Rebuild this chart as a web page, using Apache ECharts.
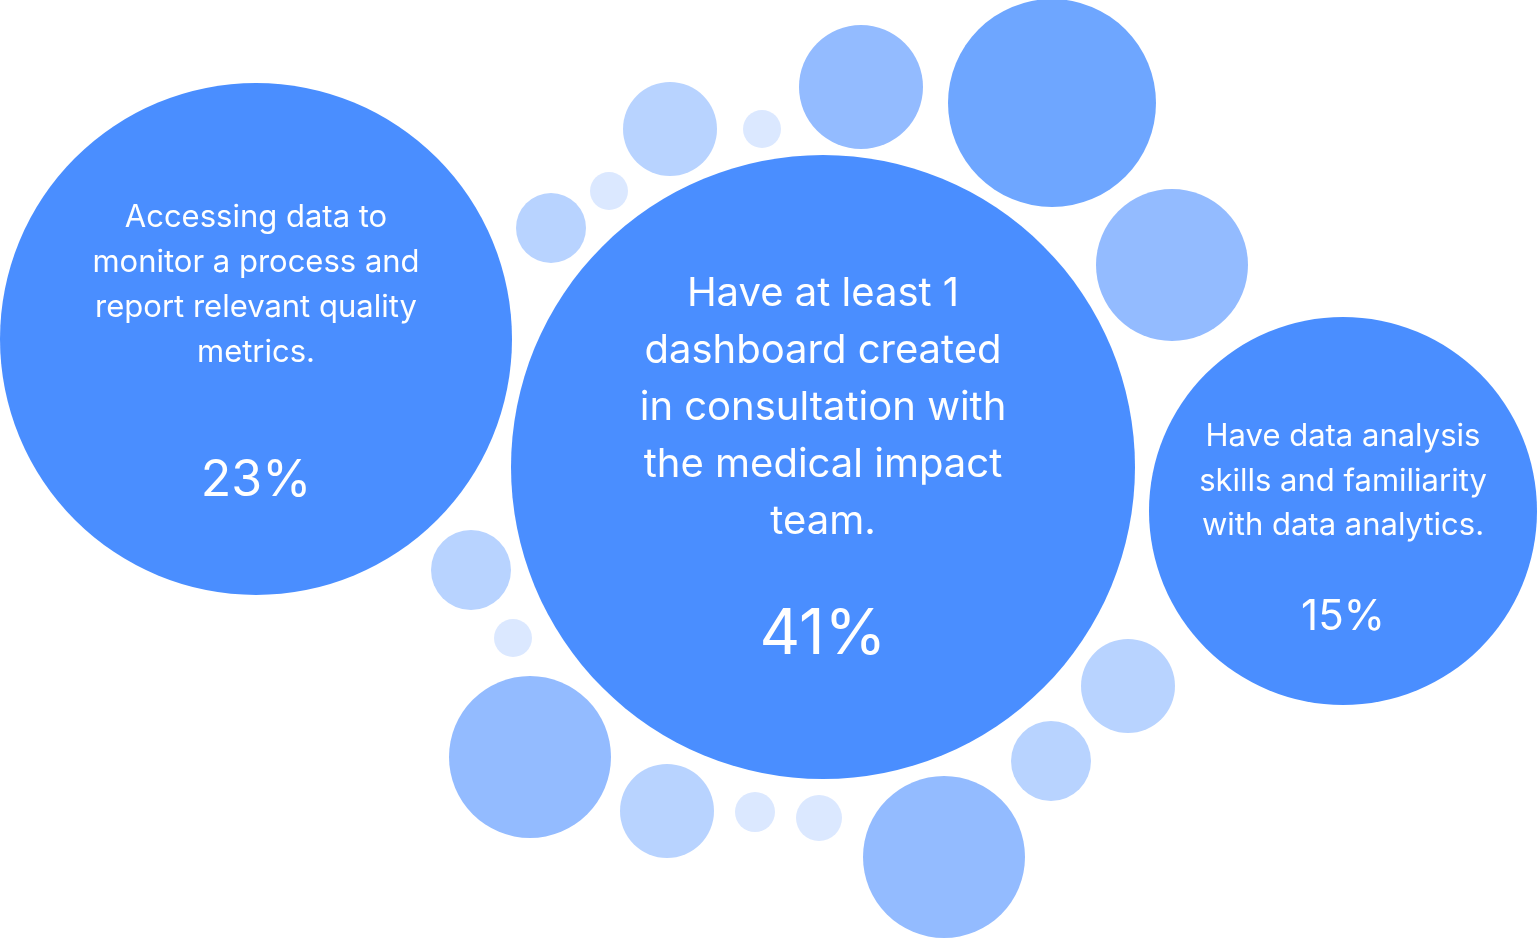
<!DOCTYPE html>
<html>
<head>
<meta charset="utf-8">
<script src="https://cdn.jsdelivr.net/npm/echarts@6/dist/echarts.min.js"></script>
<style>
html,body{margin:0;padding:0;background:#fff;}
#c{width:1538px;height:939px;}
</style>
</head>
<body>
<div id="c"></div>
<script>
// Bubble centres (x, y in picture units), radii and shade tier
const bubbleX = [256, 823, 1343, 1052, 861, 1172, 670, 762, 609, 551, 471, 513, 530, 667, 755, 819, 944, 1051, 1128];
const bubbleY = [339, 467, 511, 103, 87, 265, 129, 129, 191, 228, 570, 638, 757, 811, 812, 818, 857, 761, 686];
const bubbleR = [256, 312, 194, 104, 62, 76, 47, 19, 19, 35, 40, 19, 81, 47, 20, 23, 81, 40, 47];
const bubbleTier = [0, 0, 0, 1, 2, 2, 3, 4, 4, 3, 3, 4, 2, 3, 4, 4, 2, 3, 3];
const tierColors = ['#4a8eff', '#6ea6ff', '#93bbff', '#b8d3ff', '#dbe8ff'];

// Labelled bubbles
const labelTexts = [
  ['Accessing data to', 'monitor a process and', 'report relevant quality', 'metrics.'],
  ['Have at least 1', 'dashboard created', 'in consultation with', 'the medical impact', 'team.'],
  ['Have data analysis', 'skills and familiarity', 'with data analytics.']
];
const percentages = ['23%', '41%', '15%'];

const FONT = 'Inter';
const labelStyles = [
  {size: 31, lh: 45, psize: 50, plh: 211, offset: 52},
  {size: 40, lh: 57, psize: 63, plh: 169, offset: 25.5},
  {size: 31, lh: 44.5, psize: 42, plh: 139.5, offset: 40}
];

const data = bubbleX.map((x, i) => {
  const item = {
    value: [x, bubbleY[i], bubbleR[i]],
    itemStyle: {color: tierColors[bubbleTier[i]], opacity: 1}
  };
  if (i < labelTexts.length) {
    const s = labelStyles[i];
    item.label = {
      show: true,
      position: 'inside',
      offset: [0, s.offset],
      formatter: labelTexts[i].map(t => '{t|' + t + '}').join('\n') + '\n{p|' + percentages[i] + '}',
      rich: {
        t: {fontFamily: FONT, fontSize: s.size, lineHeight: s.lh, color: '#fff', align: 'center'},
        p: {fontFamily: FONT, fontSize: s.psize, lineHeight: s.plh, color: '#fff', align: 'center'}
      }
    };
  }
  return item;
});

const chart = echarts.init(document.getElementById('c'), null, {renderer: 'canvas'});
chart.setOption({
  animation: false,
  backgroundColor: '#ffffff',
  grid: {left: 0, right: 0, top: 0, bottom: 0},
  xAxis: {type: 'value', min: 0, max: 1538, show: false},
  yAxis: {type: 'value', min: 0, max: 939, inverse: true, show: false},
  series: [{
    type: 'scatter',
    data: data,
    symbol: 'circle',
    symbolSize: v => v[2] * 2,
    emphasis: {disabled: true},
    silent: true
  }]
});
</script>
</body>
</html>
